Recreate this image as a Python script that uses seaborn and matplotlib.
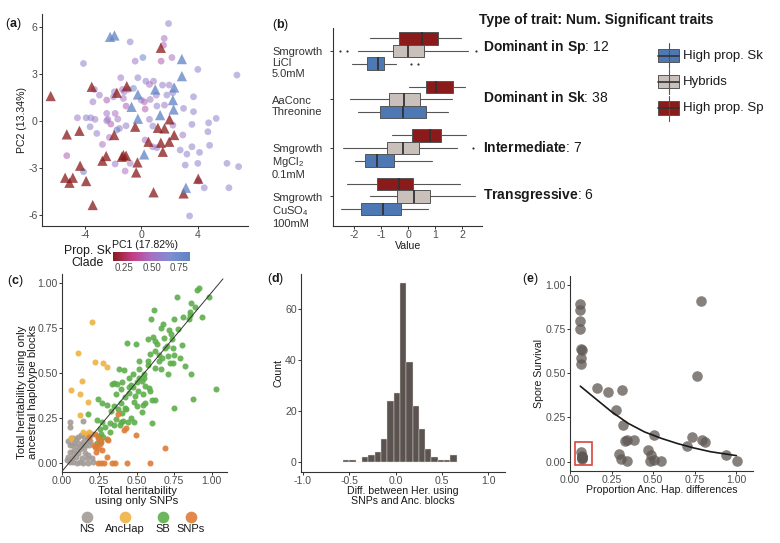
import matplotlib
matplotlib.use("Agg")
import matplotlib.pyplot as plt
import matplotlib.transforms as mtransforms
from matplotlib.colors import LinearSegmentedColormap, Normalize
from matplotlib.cm import ScalarMappable
from matplotlib.patches import Rectangle
from matplotlib.ticker import FormatStrFormatter
import seaborn as sns

W, H = 780, 543

###### Panel (a): PCA of traits, hybrids as circles, parent-like strains as triangles
circ_x = [1.93, 1.62, 1.57, -0.81, -0.45, 0.10, 1.40, 2.17, -4.14, 4.02, 6.81, -1.48, -0.26, 0.31,
          0.86, 0.57, 1.50, 1.98, -3.36, -3.00, -1.93, -1.36, -1.24, -0.93, -0.57, -2.48, -1.29,
          -0.02, 0.21, 0.62, 1.05, 1.81, 2.24, -1.10, 0.26, 1.10, 1.64, 3.00, 3.71, -2.48, -1.88,
          -4.57, -3.95, -3.62, -3.31, -2.40, -2.19, -2.48, -3.67, -3.19, -1.69, -1.10, -1.57, 0.57,
          0.81, 2.24, 4.79, 5.33, 4.74, 2.95, -2.29, -2.79, 0.26, 0.79, 1.10, 2.76, 3.24, 3.60, 4.14,
          4.86, -5.33, -1.88, -0.81, -1.17, 3.12, 4.02, 6.10, 6.93, 4.07, 4.48, 6.24, 3.43, -4.14,
          -1.76, 3.60, 3.71, -2.00, -3.47]
circ_y = [6.23, 5.28, 4.85, 5.06, 3.83, 4.06, 3.83, 4.06, 3.68, 3.30, 2.94, 2.77, 2.77, 2.55,
          2.55, 2.34, 2.30, 2.30, 2.02, 1.66, 1.87, 2.02, 1.87, 2.02, 2.09, 1.34, 1.45,
          1.34, 1.23, 1.38, 1.66, 1.66, 1.81, 0.96, 0.77, 0.96, 1.02, 0.81, 0.60, 0.49, 0.49,
          0.21, 0.21, 0.21, 0.11, 0.11, -0.19, 0.02, -0.36, -0.79, 0.13, -0.30, -0.47, 0.11,
          -0.32, -0.26, -0.11, 0.17, -0.68, -0.89, -1.04, -1.49, -1.21, -1.64, -1.70, -1.85, -2.11,
          -1.64, -2.00, -1.55, -2.21, -2.74, -2.70, -3.19, -2.81, -2.70, -2.70, -2.91, -3.83, -4.26,
          -4.26, -6.06, -3.23, -0.57, -0.21, 1.55, 1.55, 1.23]
circ_prop = [0.60, 0.50, 0.45, 0.60, 0.55, 0.78, 0.45, 0.50, 0.60, 0.60, 0.60, 0.55, 0.62, 0.60,
             0.55, 0.50, 0.60, 0.55, 0.50, 0.55, 0.55, 0.50, 0.55, 0.65, 0.75, 0.45, 0.50,
             0.60, 0.45, 0.55, 0.55, 0.60, 0.60, 0.45, 0.45, 0.60, 0.55, 0.60, 0.60, 0.55, 0.50,
             0.55, 0.60, 0.60, 0.55, 0.50, 0.45, 0.55, 0.60, 0.60, 0.55, 0.60, 0.55, 0.55,
             0.60, 0.55, 0.60, 0.60, 0.60, 0.55, 0.50, 0.50, 0.50, 0.55, 0.55, 0.60, 0.60, 0.60, 0.60,
             0.60, 0.45, 0.55, 0.55, 0.50, 0.60, 0.60, 0.60, 0.60, 0.50, 0.60, 0.60, 0.60, 0.82,
             0.80, 0.60, 0.60, 0.55, 0.55]

tri_x = [-6.48, 1.38, -1.05, -3.55, -1.76, 2.00, -0.45, 1.17, 1.64, -5.33, -4.43, -1.95, 2.33,
         0.50, 1.38, 1.98, 1.52, -2.52, -1.29, -1.40, -1.10, -4.38, -2.79, -0.29, -0.38, -5.45,
         -4.90, -5.14, -3.95, -3.48, 0.86, 3.00, 4.05,
         -2.24, -1.93, 2.88, 2.88, 2.33, 0.98, -0.26, -0.71, 2.24, 2.29, -0.26, 1.33, 0.19, 3.17]
tri_y = [1.60, 4.68, 2.23, 2.19, 1.81, 0.11, -0.36, -0.43, -0.47, -0.85, -0.62, -0.89, -0.89,
         -1.32, -1.38, -1.32, -1.96, -2.23, -2.17, -2.28, -2.21, -2.85, -2.53, -2.64, -3.28, -3.62,
         -3.62, -3.94, -3.83, -5.36, -4.55, -4.62, -3.68,
         5.38, 5.47, 3.96, 2.87, 2.15, 2.02, 1.70, 0.91, 1.34, 0.74, 0.15, 0.38, -2.13, -4.26]
tri_prop = [0.08] * 33 + [0.92] * 14

###### Panel (b): trait values per group (five-number summaries + outliers)
trait_labels = ["Smgrowth\nLiCl\n5.0mM", "AaConc\nThreonine",
                "Smgrowth\nMgCl$_2$\n0.1mM", "Smgrowth\nCuSO$_4$\n100mM"]
trait_types = [r"$\mathbf{Dominant\ in\ Sp}$: 12", r"$\mathbf{Dominant\ in\ Sk}$: 38",
               r"$\mathbf{Intermediate}$: 7", r"$\mathbf{Transgressive}$: 6"]
sp_lo = [-1.42, 0.04, -0.62, -2.25]
sp_q1 = [-0.33, 0.65, 0.14, -1.16]
sp_med = [0.52, 1.02, 0.81, -0.33]
sp_q3 = [1.08, 1.66, 1.22, 0.16]
sp_hi = [1.93, 2.10, 2.13, 1.92]
sp_out = [[], [], [], []]
hy_lo = [-1.85, -2.15, -2.42, -1.42]
hy_q1 = [-0.55, -0.71, -0.78, -0.41]
hy_med = [-0.02, -0.16, -0.20, 0.21]
hy_q3 = [0.59, 0.44, 0.41, 0.81]
hy_hi = [2.20, 1.61, 1.81, 2.47]
hy_out = [[-2.52, -2.28, 2.49], [], [2.40], []]
sk_lo = [-2.08, -1.85, -1.98, -2.50]
sk_q1 = [-1.51, -1.05, -1.60, -1.76]
sk_med = [-1.13, -0.20, -1.17, -0.92]
sk_q3 = [-0.89, 0.64, -0.52, -0.28]
sk_hi = [-0.46, 1.48, 0.87, 0.74]
sk_out = [[0.10, 0.37], [], [], []]
group_names = ["High prop. Sk", "Hybrids", "High prop. Sp"]
group_colors = ["#4E78B3", "#C9C0BB", "#8B1A1A"]

###### Panel (c): heritability SNPs vs ancestral haplotype blocks
ns_x = [0.056, 0.056, 0.142, 0.060, 0.078, 0.096, 0.111, 0.129, 0.151, 0.167, 0.182, 0.173, 0.140,
        0.111, 0.084, 0.056, 0.133, 0.156, 0.184, 0.100, 0.122, 0.084, 0.151, 0.056, 0.078, 0.111,
        0.156, 0.178, 0.044, 0.067, 0.093, 0.133, 0.167, 0.200, 0.033, 0.056, 0.078, 0.100, 0.122,
        0.144, 0.178, 0.211, 0.044, 0.200, 0.190, 0.070]
ns_y = [0.226, 0.200, 0.233, 0.139, 0.135, 0.129, 0.144, 0.153, 0.144, 0.140, 0.140, 0.126, 0.116,
        0.111, 0.107, 0.098, 0.098, 0.098, 0.098, 0.085, 0.076, 0.070, 0.079, 0.061, 0.052, 0.055,
        0.052, 0.043, 0.033, 0.028, 0.033, 0.028, 0.024, 0.024, 0.015, 0.006, 0.002, 0.000, 0.004,
        0.000, 0.000, 0.002, 0.120, 0.160, 0.120, 0.100]
anc_x = [0.200, 0.107, 0.222, 0.278, 0.300, 0.133, 0.062, 0.122, 0.178, 0.122, 0.144, 0.182, 0.062, 0.167]
anc_y = [0.782, 0.610, 0.560, 0.553, 0.530, 0.453, 0.403, 0.379, 0.335, 0.264, 0.172, 0.172, 0.135, 0.160]
sb_x = [0.918, 0.904, 0.982, 0.771, 0.860, 0.889, 0.613, 0.856, 0.856, 0.596, 0.933, 0.807, 0.749,
        0.851, 0.678, 0.660, 0.776, 0.716, 0.609, 0.578, 0.727, 0.738, 0.622, 0.638, 0.493, 0.433,
        0.702, 0.804, 0.689, 0.744, 0.589, 0.649, 0.711, 0.749, 0.671, 0.789, 0.578, 0.518, 0.649,
        0.722, 0.744, 0.822, 0.573, 0.622, 0.516, 0.384, 0.416, 0.711, 0.862, 0.473, 0.551, 0.449,
        0.516, 0.538, 0.400, 0.351, 0.338, 0.367, 0.460, 0.476, 0.556, 0.393, 0.584, 1.031, 0.511,
        0.544, 0.449, 0.489, 0.422, 0.589, 0.482, 0.244, 0.267, 0.556, 0.622, 0.873, 0.600, 0.396,
        0.544, 0.500, 0.351, 0.422, 0.378, 0.329, 0.533, 0.751, 0.173, 0.400, 0.460, 0.362, 0.233,
        0.482, 0.271, 0.396, 0.411, 0.440, 0.322, 0.604, 0.389, 0.349, 0.289, 0.256, 0.322, 0.240,
        0.260, 0.273, 0.262, 0.233, 0.450, 0.500, 0.430, 0.360, 0.620, 0.680, 0.550, 0.300, 0.660]
sb_y = [0.967, 0.956, 0.917, 0.917, 0.889, 0.863, 0.850, 0.834, 0.817, 0.799, 0.806, 0.808, 0.799,
        0.795, 0.767, 0.745, 0.741, 0.738, 0.697, 0.686, 0.712, 0.689, 0.678, 0.658, 0.658, 0.664,
        0.649, 0.651, 0.634, 0.638, 0.606, 0.597, 0.593, 0.597, 0.579, 0.579, 0.567, 0.564, 0.567,
        0.555, 0.551, 0.536, 0.542, 0.527, 0.518, 0.518, 0.516, 0.495, 0.495, 0.492, 0.494, 0.471,
        0.468, 0.453, 0.449, 0.444, 0.436, 0.436, 0.431, 0.418, 0.425, 0.409, 0.412, 0.409, 0.399,
        0.384, 0.388, 0.372, 0.362, 0.399, 0.338, 0.353, 0.333, 0.333, 0.348, 0.355, 0.346, 0.333,
        0.320, 0.314, 0.314, 0.305, 0.296, 0.287, 0.279, 0.301, 0.268, 0.274, 0.250, 0.240, 0.237,
        0.227, 0.227, 0.227, 0.233, 0.224, 0.222, 0.222, 0.209, 0.209, 0.200, 0.187, 0.172, 0.150,
        0.157, 0.144, 0.116, 0.107, 0.420, 0.450, 0.300, 0.380, 0.620, 0.690, 0.470, 0.320, 0.520]
snp_x = [0.378, 0.418, 0.429, 0.496, 0.689, 0.240, 0.256, 0.300, 0.311, 0.222, 0.244, 0.267, 0.300,
         0.240, 0.260, 0.282, 0.338, 0.356, 0.433, 0.589, 0.184, 0.220, 0.215, 0.230, 0.255]
snp_y = [0.268, 0.181, 0.190, 0.153, 0.083, 0.135, 0.126, 0.130, 0.126, 0.089, 0.083, 0.070, 0.033,
         0.000, 0.000, 0.000, 0.000, 0.000, 0.000, 0.000, 0.144, 0.160, 0.100, 0.060, 0.105]
class_names = ["NS", "AncHap", "SB", "SNPs"]
class_colors = ["#A39A96", "#EEB243", "#5DAE4B", "#DE7B36"]
diag_x = [0.0, 1.075]
diag_y = [-0.05, 1.02]

###### Panel (d): histogram of heritability differences
hist_edges = [-0.565, -0.497, -0.429, -0.361, -0.293, -0.225, -0.157, -0.089, -0.021, 0.047,
              0.115, 0.183, 0.251, 0.319, 0.387, 0.455, 0.523, 0.591, 0.659]
hist_counts = [1, 1, 0, 2, 3, 4, 9, 24, 27, 70, 39, 22, 13, 5, 2, 1, 1, 3]
hist_centers = [(a + b) / 2 for a, b in zip(hist_edges[:-1], hist_edges[1:])]

###### Panel (e): spore survival vs proportion of ancestral haplotype differences
surv_x = [0.062, 0.062, 0.062, 0.062, 0.067, 0.071, 0.065, 0.065, 0.161, 0.226, 0.312, 0.278, 0.319,
          0.329, 0.343, 0.383, 0.294, 0.304, 0.343, 0.468, 0.484, 0.482, 0.504, 0.548, 0.506, 0.706,
          0.736, 0.792, 0.810, 0.766, 0.788, 0.938, 1.006, 0.068, 0.072, 0.075, 0.073, 0.070, 0.074]
surv_y = [0.891, 0.859, 0.797, 0.750, 0.637, 0.629, 0.588, 0.552, 0.418, 0.395, 0.407, 0.292, 0.207,
          0.119, 0.124, 0.124, 0.041, 0.017, 0.004, 0.066, 0.036, 0.006, 0.008, 0.004, 0.151, 0.090,
          0.137, 0.124, 0.111, 0.484, 0.906, 0.036, 0.006, 0.053, 0.028, 0.024, 0.019, 0.030, 0.013]
curve_x = [0.062, 0.151, 0.250, 0.349, 0.448, 0.548, 0.647, 0.746, 0.845, 1.000]
curve_y = [0.427, 0.358, 0.282, 0.217, 0.168, 0.132, 0.102, 0.077, 0.056, 0.034]

##### Plotting
sns.set_theme(style="ticks")
plt.rcParams["font.family"] = ["Liberation Sans", "DejaVu Sans"]
plt.rcParams["mathtext.fontset"] = "custom"
plt.rcParams["mathtext.rm"] = "Liberation Sans"
plt.rcParams["mathtext.it"] = "Liberation Sans:italic"
plt.rcParams["mathtext.bf"] = "Liberation Sans:bold"
plt.rcParams["axes.unicode_minus"] = False

fig = plt.figure(figsize=(W / 100, H / 100), dpi=100)

# panel boxes in pixels: left, top, right, bottom
box_a = (42, 14, 248, 225.5)
box_b = (333, 28, 482, 226)
box_c = (61.7, 273.5, 226.7, 471.7)
box_d = (301, 274, 505, 472)
box_e = (570, 276, 753, 471)


def add_ax(box):
    l, t, r, b = box
    return fig.add_axes([l / W, 1 - b / H, (r - l) / W, (b - t) / H])


def frac(box, px, py):
    l, t, r, b = box
    return (px - l) / (r - l), (b - py) / (b - t)


def style(ax, box, xlab, xpos, ylab=None, ypos=None, size=7.6):
    sns.despine(ax=ax)
    for s in ("left", "bottom"):
        ax.spines[s].set_color("#333333")
        ax.spines[s].set_linewidth(0.8)
    ax.tick_params(length=2.0, width=0.7, color="#333333", labelsize=7.6,
                   labelcolor="#4d4d4d", pad=1.0)
    ax.set_xlabel(xlab, fontsize=size, va="center", color="#1a1a1a", linespacing=1.0)
    ax.xaxis.set_label_coords(*frac(box, *xpos))
    if ylab:
        ax.set_ylabel(ylab, fontsize=size, va="center", color="#1a1a1a", linespacing=1.0)
        ax.yaxis.set_label_coords(*frac(box, *ypos))
    else:
        ax.set_ylabel("")


# (a)
cmap = LinearSegmentedColormap.from_list(
    "propsk", ["#8B1A1A", "#C23C86", "#A86FC4", "#7E8ED0", "#5F83C4"])
norm = Normalize(0.15, 0.85)
ax_a = add_ax(box_a)
sns.scatterplot(x=circ_x, y=circ_y, hue=circ_prop, palette=cmap, hue_norm=norm, s=24,
                alpha=0.55, linewidth=0, legend=False, ax=ax_a)
sns.scatterplot(x=tri_x, y=tri_y, hue=tri_prop, palette=cmap, hue_norm=norm, s=55,
                marker="^", alpha=0.75, linewidth=0, legend=False, ax=ax_a)
ax_a.set_xlim(-7.1, 7.6)
ax_a.set_ylim(-6.67, 6.84)
ax_a.set_xticks([-4, 0, 4])
ax_a.set_yticks([-6, -3, 0, 3, 6])
style(ax_a, box_a, "PC1 (17.82%)", (145, 245), "PC2 (13.34%)", (22, 120))

cax = add_ax((113, 252, 190, 261))
cb = fig.colorbar(ScalarMappable(norm=norm, cmap=cmap), cax=cax, orientation="horizontal")
cb.set_ticks([0.25, 0.5, 0.75])
cb.ax.tick_params(length=2.5, width=0.6, color="white", direction="in", labelsize=7,
                  labelcolor="#4d4d4d", pad=1.5)
cb.outline.set_visible(False)

# (b)
ax_b = add_ax(box_b)
offsets = [0.26, 0.0, -0.26]
stats_by_group = [
    (sk_lo, sk_q1, sk_med, sk_q3, sk_hi, sk_out),
    (hy_lo, hy_q1, hy_med, hy_q3, hy_hi, hy_out),
    (sp_lo, sp_q1, sp_med, sp_q3, sp_hi, sp_out),
]
for (lo, q1, med, q3, hi, out), col, off in zip(stats_by_group, group_colors, offsets):
    stats = [dict(whislo=lo[i], q1=q1[i], med=med[i], q3=q3[i], whishi=hi[i], fliers=out[i])
             for i in range(len(trait_labels))]
    kw = dict(positions=[i + off for i in range(len(trait_labels))], widths=0.26,
              patch_artist=True, showcaps=False,
              boxprops=dict(facecolor=col, edgecolor="#555555", linewidth=0.7),
              medianprops=dict(color="#333333", linewidth=1.3),
              whiskerprops=dict(color="#555555", linewidth=0.8),
              flierprops=dict(marker="o", markersize=1.6, markerfacecolor="#333333",
                              markeredgecolor="none"),
              manage_ticks=False)
    try:
        ax_b.bxp(stats, orientation="horizontal", **kw)
    except TypeError:
        ax_b.bxp(stats, vert=False, **kw)
ax_b.set_xlim(-2.78, 2.72)
ax_b.set_ylim(3.61, -0.474)
ax_b.set_xticks([-2, -1, 0, 1, 2])
ax_b.set_yticks(range(len(trait_labels)))
ax_b.set_yticklabels([])
style(ax_b, box_b, "Value", (408, 246))
trans = mtransforms.blended_transform_factory(ax_b.transAxes, ax_b.transData)
trans = trans + mtransforms.ScaledTranslation(0, 3.5 / 100, fig.dpi_scale_trans)
for i, lab in enumerate(trait_labels):
    ax_b.text(-0.409, i, lab, transform=trans, ha="left", va="top", fontsize=8,
              color="#333333", linespacing=1.1)

# (c)
ax_c = add_ax(box_c)
for xs, ys, col in zip([ns_x, anc_x, sb_x, snp_x], [ns_y, anc_y, sb_y, snp_y], class_colors):
    sns.scatterplot(x=xs, y=ys, color=col, s=19, alpha=0.9, linewidth=0, ax=ax_c)
sns.lineplot(x=diag_x, y=diag_y, color="#333333", linewidth=0.7, ax=ax_c)
ax_c.set_xlim(0, 1.1)
ax_c.set_ylim(-0.05, 1.05)
ax_c.set_xticks([0, 0.25, 0.5, 0.75, 1.0])
ax_c.set_yticks([0, 0.25, 0.5, 0.75, 1.0])
ax_c.xaxis.set_major_formatter(FormatStrFormatter("%.2f"))
ax_c.yaxis.set_major_formatter(FormatStrFormatter("%.2f"))
style(ax_c, box_c, "Total heritability\nusing only SNPs", (137, 496.5),
      "Total heritability using only\nancestral haplotype blocks", (27.5, 392), size=8.2)

# (d)
ax_d = add_ax(box_d)
sns.histplot(x=hist_centers, weights=hist_counts, bins=hist_edges, color="#5B534F", alpha=1,
             edgecolor="#E2DEDB", linewidth=0.3, ax=ax_d)
ax_d.set_xlim(-1.02, 1.18)
ax_d.set_ylim(-3.8, 73.5)
ax_d.set_xticks([-1, -0.5, 0, 0.5, 1])
ax_d.set_yticks([0, 20, 40, 60])
ax_d.xaxis.set_major_formatter(FormatStrFormatter("%.1f"))
style(ax_d, box_d, "Diff. between Her. using\nSNPs and Anc. blocks", (402.7, 496.5),
      "Count", (279, 373.3))

# (e)
ax_e = add_ax(box_e)
sns.scatterplot(x=surv_x, y=surv_y, color="#5F5753", s=58, alpha=0.75, linewidth=0, ax=ax_e)
sns.lineplot(x=curve_x, y=curve_y, color="#1a1a1a", linewidth=1.2, ax=ax_e)
ax_e.add_patch(Rectangle((0.032, -0.019), 0.101, 0.132, fill=False, edgecolor="#D9463E",
                         linewidth=1.2))
ax_e.set_xlim(0.012, 1.10)
ax_e.set_ylim(-0.053, 1.05)
ax_e.set_xticks([0, 0.25, 0.5, 0.75, 1.0])
ax_e.set_yticks([0, 0.25, 0.5, 0.75, 1.0])
ax_e.xaxis.set_major_formatter(FormatStrFormatter("%.2f"))
ax_e.yaxis.set_major_formatter(FormatStrFormatter("%.2f"))
style(ax_e, box_e, "Proportion Anc. Hap. differences", (661.7, 490),
      "Spore Survival", (539.3, 373.3))

###### Overlay in pixel coordinates for tags, legends and annotations
ov = fig.add_axes([0, 0, 1, 1], facecolor="none")
ov.set_xlim(0, W)
ov.set_ylim(H, 0)
ov.set_axis_off()

for tag, (tx, ty) in zip("abcde", [(5, 24), (271.7, 25), (7, 281), (267, 279), (522, 279)]):
    ov.text(tx, ty, r"($\mathbf{%s}$)" % tag, fontsize=9, ha="left", va="center",
            color="#1a1a1a")

ov.text(87.5, 257, "Prop. Sk\nClade", fontsize=8.8, ha="center", va="center",
        linespacing=0.95, color="#1a1a1a")

ov.text(479, 20, "Type of trait: Num. Significant traits", fontsize=10, fontweight="bold",
        ha="left", va="center", color="#1a1a1a")
for ty, lab in zip([47, 97, 147, 195], trait_types):
    ov.text(483.3, ty, lab, fontsize=10, ha="left", va="center", color="#1a1a1a")

for ky, col, lab in zip([55.5, 81.5, 108], group_colors, group_names):
    ov.plot([668.8, 668.8], [ky - 12.5, ky + 12.5], color="#555555", linewidth=0.8)
    ov.add_patch(Rectangle((658.3, ky - 6.7), 21, 13.4, facecolor=col, edgecolor="#555555",
                           linewidth=0.7))
    ov.plot([658.3, 679.3], [ky, ky], color="#333333", linewidth=1.2)
    ov.text(682.7, ky, lab, fontsize=9.5, ha="left", va="center", color="#1a1a1a")

for kx, col, lab in zip([87.3, 125, 162.7, 190.5], class_colors, class_names):
    ov.plot([kx], [516.7], "o", markersize=8.4, color=col, alpha=0.9, markeredgecolor="none")
    ov.text(kx, 528.5, lab, fontsize=8, ha="center", va="center", color="#1a1a1a")

fig.savefig("out.png", dpi=100)
